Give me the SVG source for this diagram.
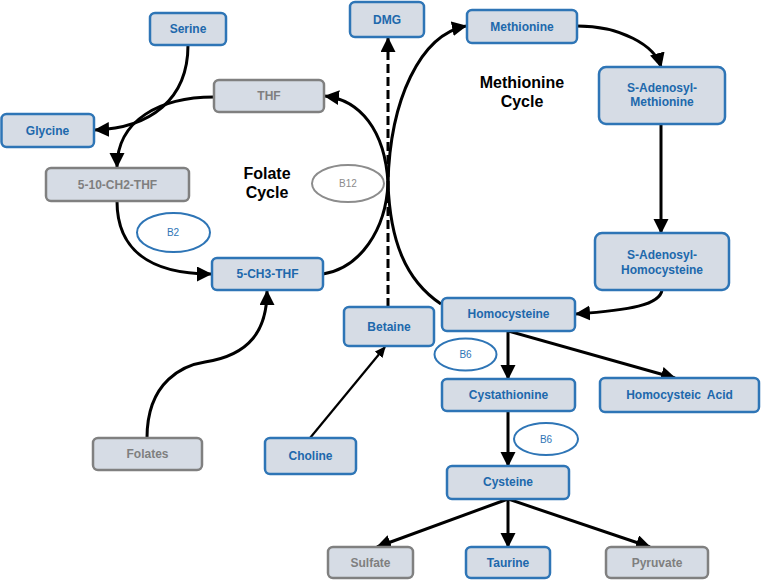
<svg xmlns="http://www.w3.org/2000/svg" width="761" height="580" viewBox="0 0 761 580">
<style>
.nb rect{fill:#D6DCE5;stroke:#2E75B6;stroke-width:2.5}
.ng rect{fill:#D6DCE5;stroke:#808080;stroke-width:2.5}
.nb text{fill:#2068AC;font:bold 12px "Liberation Sans",Arial,sans-serif;text-anchor:middle}
.ng text{fill:#7F7F7F;font:bold 12px "Liberation Sans",Arial,sans-serif;text-anchor:middle}
.vb ellipse{fill:#FFFFFF;stroke:#2E75B6;stroke-width:2}
.vg ellipse{fill:#FFFFFF;stroke:#8C8C8C;stroke-width:2}
.vb text{fill:#2E75B6;font:10px "Liberation Sans",Arial,sans-serif;text-anchor:middle}
.vg text{fill:#8C8C8C;font:10px "Liberation Sans",Arial,sans-serif;text-anchor:middle}
.title{fill:#000;font:bold 16px "Liberation Sans",Arial,sans-serif;text-anchor:middle}
.c path{fill:none;stroke:#000;stroke-width:3;marker-end:url(#ah)}
.c path.thin{stroke-width:2.2;marker-end:url(#ahs)}
.c path.dash{stroke-dasharray:9 4}
</style>
<defs>
<marker id="ah" markerUnits="userSpaceOnUse" markerWidth="16" markerHeight="16" refX="14" refY="7.5" orient="auto"><path d="M0,0 L15,7.5 L0,15 z" fill="#000"/></marker>
<marker id="ahs" markerUnits="userSpaceOnUse" markerWidth="12" markerHeight="12" refX="10" refY="5" orient="auto"><path d="M0,0 L11,5 L0,10 z" fill="#000"/></marker>
</defs>
<rect width="761" height="580" fill="#FFFFFF"/>

<g id="connectors" class="c">
<path d="M188,45 C188,100 150,128 95,130"/>
<path d="M214,97 C160,97 117,120 117,167"/>
<path d="M117,201 C117,250 150,274 211,274"/>
<path d="M147,438 C147,380 185,365 205,362 C250,355 267,330 267,291"/>
<path d="M323,274 C360,268 386,230 388,183 C390,100 420,35 466,26"/>
<path d="M441,304 C405,280 390,240 388,183 C385,130 360,100 325,96"/>
<path class="dash" d="M388,307 L388,38"/>
<path class="thin" d="M310,438 L385,347"/>
<path d="M577,26 C620,26 655,45 661,67"/>
<path d="M661,124 L661,233"/>
<path d="M662,290 C660,305 630,310 576,314"/>
<path d="M508,331 L508,379"/>
<path d="M508,331 L675,378"/>
<path d="M508,411 L508,466"/>
<path d="M508,499 L377,547"/>
<path d="M508,499 L508,547"/>
<path d="M508,499 L650,547"/>
</g>

<text class="title" x="267" y="179">Folate</text>
<text class="title" x="267" y="198">Cycle</text>
<text class="title" x="522" y="88">Methionine</text>
<text class="title" x="522" y="107">Cycle</text>

<g id="serine" class="nb"><rect x="150" y="13" width="76" height="32" rx="5"/><text x="188" y="33">Serine</text></g>
<g id="thf" class="ng"><rect x="214" y="80" width="110" height="32" rx="5"/><text x="269" y="100">THF</text></g>
<g id="glycine" class="nb"><rect x="1.5" y="114" width="92.5" height="33" rx="5"/><text x="47.5" y="135">Glycine</text></g>
<g id="ch2thf" class="ng"><rect x="46" y="168" width="143" height="33" rx="5"/><text x="117.5" y="189">5-10-CH2-THF</text></g>
<g id="ch3thf" class="nb"><rect x="212" y="258" width="111" height="32" rx="5"/><text x="267.5" y="278">5-CH3-THF</text></g>
<g id="folates" class="ng"><rect x="93" y="438" width="109" height="32" rx="5"/><text x="147.5" y="458">Folates</text></g>
<g id="choline" class="nb"><rect x="265" y="438" width="91" height="36" rx="5"/><text x="310.5" y="460">Choline</text></g>
<g id="betaine" class="nb"><rect x="344" y="307" width="90" height="39" rx="5"/><text x="389" y="331">Betaine</text></g>
<g id="dmg" class="nb"><rect x="350" y="2" width="74" height="35" rx="5"/><text x="387" y="24">DMG</text></g>
<g id="methionine" class="nb"><rect x="467" y="10" width="110" height="33" rx="5"/><text x="522" y="31">Methionine</text></g>
<g id="sam" class="nb"><rect x="599" y="67" width="126" height="57" rx="7"/><text x="662" y="92">S-Adenosyl-</text><text x="662" y="106">Methionine</text></g>
<g id="sah" class="nb"><rect x="595" y="233" width="134" height="57" rx="7"/><text x="662" y="259">S-Adenosyl-</text><text x="662" y="274">Homocysteine</text></g>
<g id="homocysteine" class="nb"><rect x="442" y="298" width="133" height="33" rx="5"/><text x="508.5" y="318">Homocysteine</text></g>
<g id="cystathionine" class="nb"><rect x="442" y="379" width="133" height="32" rx="5"/><text x="508.5" y="399">Cystathionine</text></g>
<g id="homocysteic" class="nb"><rect x="600" y="378" width="159" height="34" rx="5"/><text x="679.5" y="399" word-spacing="3">Homocysteic Acid</text></g>
<g id="cysteine" class="nb"><rect x="447" y="466" width="122" height="33" rx="5"/><text x="508" y="486">Cysteine</text></g>
<g id="sulfate" class="ng"><rect x="328" y="547" width="85" height="31" rx="5"/><text x="370.5" y="567">Sulfate</text></g>
<g id="taurine" class="nb"><rect x="466" y="547" width="84" height="31" rx="5"/><text x="508" y="567">Taurine</text></g>
<g id="pyruvate" class="ng"><rect x="606" y="547" width="102" height="31" rx="5"/><text x="657" y="567">Pyruvate</text></g>

<g id="b2" class="vb"><ellipse cx="173.5" cy="232.5" rx="36.5" ry="19.5"/><text x="173" y="236">B2</text></g>
<g id="b12" class="vg"><ellipse cx="348" cy="183.5" rx="36" ry="18.5"/><text x="348" y="187">B12</text></g>
<g id="b6a" class="vb"><ellipse cx="465.5" cy="354.5" rx="31" ry="16"/><text x="465.5" y="358">B6</text></g>
<g id="b6b" class="vb"><ellipse cx="546" cy="439" rx="32" ry="16"/><text x="546" y="442.5">B6</text></g>
</svg>
